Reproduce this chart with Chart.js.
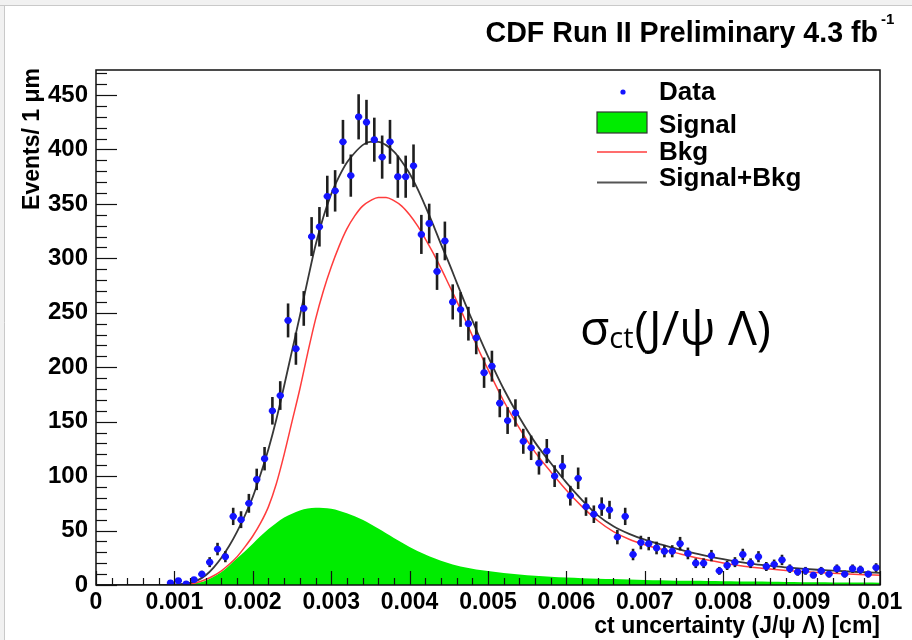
<!DOCTYPE html>
<html><head><meta charset="utf-8">
<script src="https://cdn.jsdelivr.net/npm/chart.js@4.4.1/dist/chart.umd.min.js"></script>
<style>html,body{margin:0;padding:0;background:#fff;}#wrap{width:912px;height:640px;position:relative;}</style>
</head><body><div id="wrap"><canvas id="c" width="912" height="640"></canvas></div>
<script>
// ---- data ----
const binWidth = 0.0001; // 1 um bins, in cm
const dataCounts = [
  null,null,null,null,null,null,null,null,null,2,
  4,1,5,10,21,33,26,63,60,75,
  97,116,160,174,243,217,254,320,329,357,
  362,407,376,430,425,409,393,407,375,375,
  385,322,332,288,316,260,253,240,227,195,
  201,167,151,158,132,126,112,123,100,109,
  82,98,72,65,72,69,44,63,28,39,
  38,34,31,31,38,29,20,20,27,13,
  18,21,28,20,26,17,19,23,15,12,
  13,9,13,10,15,10,15,14,10,16
];
const curveX = [
  0,0.0009,
  0.0010,0.0011,0.0012,0.0013,0.0014,0.0015,0.0016,0.0017,0.0018,0.0019,
  0.0020,0.0021,0.0022,0.0023,0.0024,0.0025,0.0026,0.0027,0.0028,0.0029,
  0.0030,0.0031,0.0032,0.0033,0.0034,0.0035,0.0036,0.0037,0.0038,0.0039,
  0.0040,0.0041,0.0042,0.0043,0.0044,0.0045,0.0046,0.0047,0.0048,0.0049,
  0.0050,0.0052,0.0054,0.0056,0.0058,0.0060,0.0062,0.0064,0.0066,0.0068,
  0.0070,0.0072,0.0074,0.0076,0.0078,0.0080,0.0082,0.0084,0.0086,0.0088,
  0.0090,0.0092,0.0094,0.0096,0.0098,0.0100
];
const signalY = [
  0,0,
  0,0.2,0.8,2,4,7.5,12,18,24.5,31,
  38,45,51.5,57,62,65.5,68.5,70.2,71,70.8,
  70,68.3,66,63.2,60,56,51.8,47.5,43.2,39,
  35,31.3,28,25,22.3,20,18,16.3,14.9,13.7,
  12.8,11,9.6,8.5,7.6,6.9,6.3,5.8,5.4,5.0,
  4.6,4.3,4.0,3.8,3.6,3.4,3.2,3.1,2.9,2.8,
  2.6,2.5,2.4,2.3,2.2,2.1
];
const bkgY = [
  0,0,
  0,0.3,1,2.5,5,8.5,13,19,26,35,
  45,57,72,93,120,150,180,213,244,270,
  292,311,327,339,348,353,356,356,353,348,
  340,330,318,305,291,276,261,245,229,213,
  198,169,144,122,104,87,72,59,49,42,
  37,33,29.5,26,23,20.3,18,16,14.6,13.4,
  12.4,11.5,10.8,10.1,9.5,9
];
const totalY = [
  0,0,
  0.5,1,2,4.5,9,16,25,36,49,64,
  81,102,125,152,183,215,247,280,312,338,
  359,375,388,397,404,407,407,404,398,389,
  378,364,348,331,313,296,278,260,243,226,
  210,180,154,131,112,94,78,64,54,47,
  41.6,37.3,33.5,29.8,26.6,23.7,21.2,19.1,17.5,16.2,
  15,14,13.2,12.4,11.7,11.1
];
const xTickValues = [0,0.001,0.002,0.003,0.004,0.005,0.006,0.007,0.008,0.009,0.01];
const xTickLabels = ['0','0.001','0.002','0.003','0.004','0.005','0.006','0.007','0.008','0.009','0.01'];
const yTickValues = [0,50,100,150,200,250,300,350,400,450];
const yTickLabels = ['0','50','100','150','200','250','300','350','400','450'];
const legendLabels = ['Data','Signal','Bkg','Signal+Bkg'];
const titleText = 'CDF Run II Preliminary 4.3 fb';
const titleSup = '-1';
const yTitle = 'Events/ 1 \u03bcm';
const xTitle = 'ct uncertainty (J/\u03c8 \u039b) [cm]';

const BLUE = '#1414ff', GREEN = 'rgb(0,236,0)', RED = 'rgb(255,60,60)', DARK = '#383838';
const F = '"Liberation Sans", Arial, Helvetica, sans-serif';

const pts = (xs, ys) => xs.map((x, i) => ({x: x, y: ys[i]}));
const dataPts = dataCounts.map((c, i) => ({x: (i + 0.5) * binWidth, y: c}));

const decor = {
  id: 'decor',
  beforeDraw(chart) {
    const ctx = chart.ctx;
    ctx.save();
    ctx.fillStyle = '#fff';
    ctx.fillRect(0, 0, chart.width, chart.height);
    ctx.fillStyle = '#f1f1f1';
    ctx.fillRect(0, 0, chart.width, 5);
    ctx.fillRect(0, 0, 4, chart.height);
    ctx.strokeStyle = '#c9c9c9'; ctx.lineWidth = 1;
    ctx.beginPath(); ctx.moveTo(0, 5.5); ctx.lineTo(chart.width, 5.5); ctx.stroke();
    ctx.beginPath(); ctx.moveTo(4.5, 5); ctx.lineTo(4.5, chart.height); ctx.stroke();
    ctx.restore();
  },
  beforeDatasetDraw(chart, args) {
    if (args.index !== 0) return;
    const ctx = chart.ctx, xa = chart.scales.x, ya = chart.scales.y, ca = chart.chartArea;
    ctx.save();
    ctx.beginPath(); ctx.rect(ca.left, ca.top, ca.width, ca.height); ctx.clip();
    dataPts.forEach(p => {
      if (p.y === null) return;
      const e = Math.sqrt(p.y);
      const px = xa.getPixelForValue(p.x);
      ctx.strokeStyle = '#1e1e1e'; ctx.lineWidth = 2.6;
      ctx.beginPath();
      ctx.moveTo(px, ya.getPixelForValue(p.y + e));
      ctx.lineTo(px, ya.getPixelForValue(Math.max(0, p.y - e)));
      ctx.stroke();
      const py = ya.getPixelForValue(p.y);
      ctx.strokeStyle = BLUE; ctx.lineWidth = 2.4;
      ctx.beginPath();
      ctx.moveTo(xa.getPixelForValue(p.x - binWidth / 2) + 0.3, py);
      ctx.lineTo(xa.getPixelForValue(p.x + binWidth / 2) - 0.3, py);
      ctx.stroke();
    });
    ctx.restore();
  },
  afterDraw(chart) {
    const ctx = chart.ctx, xa = chart.scales.x, ya = chart.scales.y, ca = chart.chartArea;
    ctx.save();
    // frame
    ctx.strokeStyle = '#111'; ctx.lineWidth = 1.5;
    ctx.strokeRect(ca.left, ca.top, ca.right - ca.left, ca.bottom - ca.top);
    // y ticks (inside)
    ctx.lineWidth = 1.2;
    for (let v = 0; v <= ya.max + 1e-9; v += 10) {
      const y = Math.round(ya.getPixelForValue(v)) + 0.5;
      const len = (v % 50 === 0) ? 21 : 11;
      ctx.beginPath(); ctx.moveTo(ca.left, y); ctx.lineTo(ca.left + len, y); ctx.stroke();
    }
    // x ticks (inside)
    for (let k = 0; k <= 50; k++) {
      const x = Math.round(xa.getPixelForValue(k * 0.0002)) + 0.5;
      const len = (k % 5 === 0) ? 14 : 7;
      ctx.beginPath(); ctx.moveTo(x, ca.bottom); ctx.lineTo(x, ca.bottom - len); ctx.stroke();
    }
    // title
    ctx.fillStyle = '#000';
    ctx.font = 'bold 28.6px ' + F;
    ctx.textAlign = 'right'; ctx.textBaseline = 'alphabetic';
    ctx.fillText(titleText, 878, 42);
    ctx.font = 'bold 15px ' + F;
    ctx.textAlign = 'left';
    ctx.fillText(titleSup, 881, 24);
    // axis titles
    ctx.font = 'bold 23px ' + F;
    ctx.textAlign = 'right'; ctx.textBaseline = 'alphabetic';
    ctx.fillText(xTitle, 880, 633);
    ctx.save();
    ctx.translate(39, 68); ctx.rotate(-Math.PI / 2);
    ctx.textAlign = 'right';
    ctx.fillText(yTitle, 0, 0);
    ctx.restore();
    // legend
    ctx.font = 'bold 26px ' + F;
    ctx.textAlign = 'left'; ctx.textBaseline = 'alphabetic';
    const lx = 659, bl = [100, 133, 160, 186];
    legendLabels.forEach((t, i) => ctx.fillText(t, lx, bl[i]));
    ctx.fillStyle = BLUE;
    ctx.beginPath(); ctx.arc(623, 92, 2.6, 0, Math.PI * 2); ctx.fill();
    ctx.fillStyle = GREEN; ctx.fillRect(597, 112, 50, 21);
    ctx.strokeStyle = '#333'; ctx.lineWidth = 1.2; ctx.strokeRect(597, 112, 50, 21);
    ctx.strokeStyle = RED; ctx.lineWidth = 1.5;
    ctx.beginPath(); ctx.moveTo(597, 152); ctx.lineTo(647, 152); ctx.stroke();
    ctx.strokeStyle = '#555'; ctx.lineWidth = 2;
    ctx.beginPath(); ctx.moveTo(597, 182.5); ctx.lineTo(647, 182.5); ctx.stroke();
    // annotation
    ctx.fillStyle = '#000';
    const A = '"Open Sans", "DejaVu Sans", sans-serif';
    let ax = 580;
    ctx.font = '48px ' + A;
    ctx.fillText('\u03c3', ax, 345); ax += ctx.measureText('\u03c3').width;
    ctx.font = '29px ' + A;
    ctx.fillText('ct', ax, 348); ax += ctx.measureText('ct').width + 1;
    ctx.font = '48px ' + A;
    ctx.fillText('(J/\u03c8 \u039b)', ax, 345);
    ctx.restore();
  }
};

new Chart(document.getElementById('c'), {
  type: 'line',
  data: {
    datasets: [
      {label: legendLabels[0], data: dataPts, showLine: false, pointRadius: 3.4, pointStyle: 'circle',
       pointBackgroundColor: BLUE, pointBorderWidth: 0, spanGaps: false},
      {label: legendLabels[3], data: pts(curveX, totalY), borderColor: DARK, borderWidth: 1.8,
       pointRadius: 0, cubicInterpolationMode: 'monotone', fill: false},
      {label: legendLabels[2], data: pts(curveX, bkgY), borderColor: RED, borderWidth: 1.5,
       pointRadius: 0, cubicInterpolationMode: 'monotone', fill: false},
      {label: legendLabels[1], data: pts(curveX, signalY), borderColor: GREEN, borderWidth: 0,
       backgroundColor: GREEN, pointRadius: 0, cubicInterpolationMode: 'monotone', fill: 'origin'}
    ]
  },
  options: {
    responsive: false, animation: false, devicePixelRatio: 1,
    layout: {padding: {top: 70, right: 32, bottom: 0, left: 0}},
    plugins: {legend: {display: false}, tooltip: {enabled: false}, title: {display: false}},
    scales: {
      x: {
        type: 'linear', min: 0, max: 0.01,
        afterBuildTicks: s => { s.ticks = xTickValues.map(v => ({value: v})); },
        afterFit: s => { s.height = 55; },
        ticks: {callback: (v, i) => xTickLabels[i], color: '#000', padding: 4, maxRotation: 0, autoSkip: false,
                font: {family: F, weight: 'bold', size: 23}},
        grid: {display: false, drawTicks: false}, border: {display: false}
      },
      y: {
        type: 'linear', min: 0, max: 473,
        afterBuildTicks: s => { s.ticks = yTickValues.map(v => ({value: v})); },
        afterFit: s => { s.width = 96; },
        ticks: {callback: (v, i) => yTickLabels[i], color: '#000', padding: 8, autoSkip: false,
                font: {family: F, weight: 'bold', size: 24}},
        grid: {display: false, drawTicks: false}, border: {display: false}
      }
    }
  },
  plugins: [decor]
});
</script>
</body></html>
